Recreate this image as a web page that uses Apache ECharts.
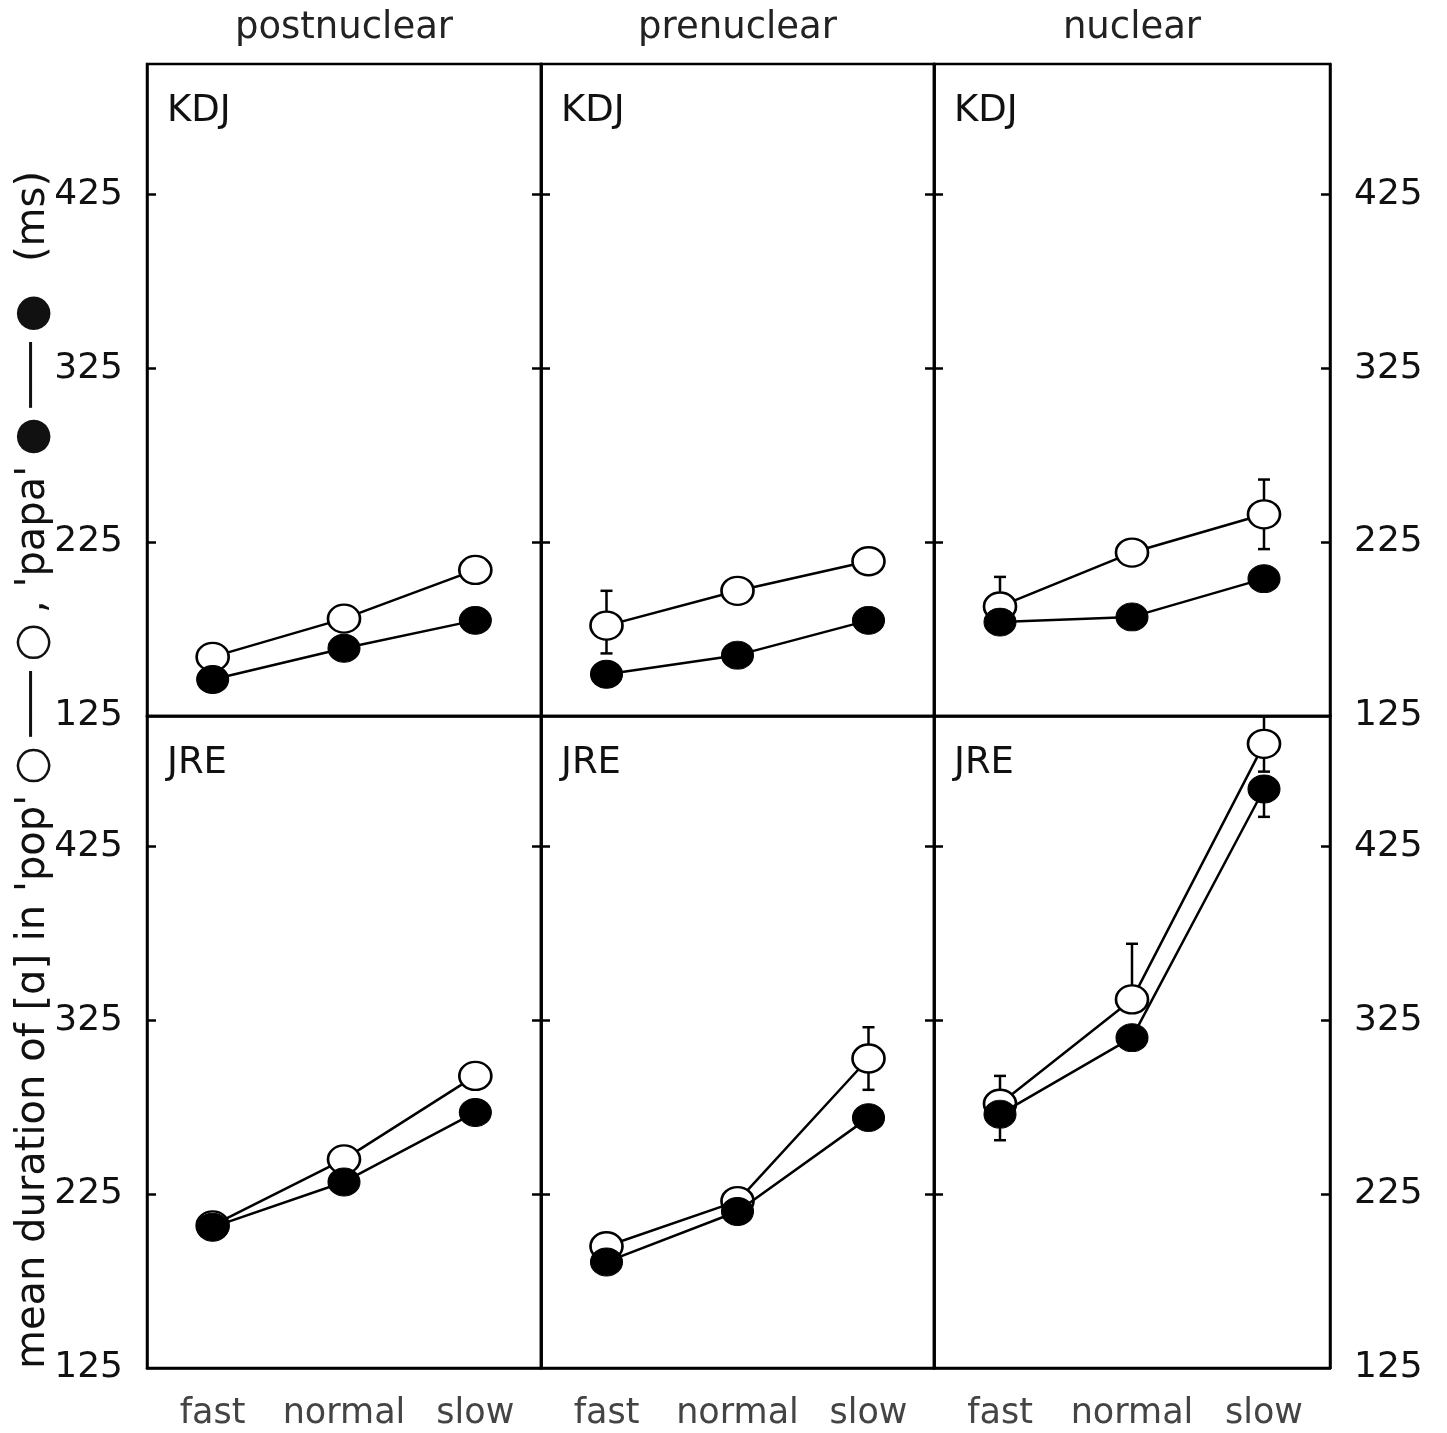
<!DOCTYPE html>
<html>
<head>
<meta charset="utf-8">
<title>pop papa durations</title>
<script src="https://cdn.jsdelivr.net/npm/echarts@6/dist/echarts.min.js"></script>
<style>
  body { margin: 0; background: #fff; }
</style>
</head>
<body>
<div id="main" style="width:1447px;height:1433px;"></div>
<script>
// categories
var speeds = ['fast', 'normal', 'slow'];
var positions = ['postnuclear', 'prenuclear', 'nuclear'];
var speakers = ['KDJ', 'JRE'];
var yTicks = [125, 225, 325, 425];

// mean durations (ms), one row per position: postnuclear, prenuclear, nuclear
var kdjPop  = [[159, 181, 209], [177, 197, 214], [188, 219, 241]];
var kdjPapa = [[146, 164, 180], [149, 160, 180], [179, 182, 204]];
var jrePop  = [[207, 245, 293], [195, 221, 303], [277, 337, 484]];
var jrePapa = [[206, 232, 272], [186, 215, 269], [271, 315, 458]];

// error bars as [below, above] (0 = not drawn)
var kdjPopErr  = [[[0, 0], [0, 0], [0, 0]], [[16, 20], [0, 0], [0, 0]], [[0, 17], [0, 0], [20, 20]]];
var kdjPapaErr = [[[0, 0], [0, 0], [0, 0]], [[0, 0], [0, 0], [0, 0]], [[0, 0], [0, 0], [0, 0]]];
var jrePopErr  = [[[0, 0], [0, 0], [0, 0]], [[0, 0], [0, 0], [18, 18]], [[0, 16], [0, 32], [16, 16]]];
var jrePapaErr = [[[0, 0], [0, 0], [0, 0]], [[0, 0], [0, 0], [0, 0]], [[15, 0], [0, 0], [16, 0]]];

var popRows = [kdjPop, jrePop];
var papaRows = [kdjPapa, jrePapa];
var popErrRows = [kdjPopErr, jrePopErr];
var papaErrRows = [kdjPapaErr, jrePapaErr];

var FONT = 'DejaVu Sans';
var colLeft = [147, 541, 934];
var colWidth = [394, 393, 396];
var rowTop = [64, 716];
var rowHeight = 652;

var chart = echarts.init(document.getElementById('main'));

var grids = [], xAxes = [], yAxes = [], series = [];

function errorData(vals, errs) {
  var out = [];
  for (var i = 0; i < vals.length; i++) {
    if (errs[i][0] > 0 || errs[i][1] > 0) out.push([i, vals[i], errs[i][0], errs[i][1]]);
  }
  return out;
}

function renderError(params, api) {
  var x = api.value(0), v = api.value(1), dn = api.value(2), up = api.value(3);
  var top = api.coord([x, v + up]);
  var bot = api.coord([x, v - dn]);
  var w = 6;
  var st = { stroke: '#000', lineWidth: 2.5 };
  var kids = [{ type: 'line', shape: { x1: top[0], y1: top[1], x2: bot[0], y2: bot[1] }, style: st }];
  if (up > 0) kids.push({ type: 'line', shape: { x1: top[0] - w, y1: top[1], x2: top[0] + w, y2: top[1] }, style: st });
  if (dn > 0) kids.push({ type: 'line', shape: { x1: bot[0] - w, y1: bot[1], x2: bot[0] + w, y2: bot[1] }, style: st });
  return { type: 'group', children: kids };
}

function yAxisFor(g, side, showLabels) {
  return {
    type: 'value', gridIndex: g, position: side,
    min: 125, max: 500,
    axisLine: { show: true, lineStyle: { color: '#000', width: 2.5 } },
    axisTick: { show: true, inside: true, length: 9, lineStyle: { color: '#000', width: 2.5 },
      customValues: [225, 325, 425] },
    axisLabel: { show: showLabels, customValues: yTicks, fontSize: 36, fontFamily: FONT,
      color: '#111', margin: 24 },
    splitLine: { show: false }
  };
}

for (var r = 0; r < 2; r++) {
  for (var c = 0; c < 3; c++) {
    var g = r * 3 + c;
    grids.push({
      left: colLeft[c], top: rowTop[r], width: colWidth[c], height: rowHeight,
      outerBoundsMode: 'none',
      show: true, borderColor: '#000', borderWidth: 2.5
    });
    xAxes.push({
      type: 'category', gridIndex: g, data: speeds, boundaryGap: true,
      axisLine: { show: true, lineStyle: { color: '#000', width: 2.5 } },
      axisTick: { show: false },
      axisLabel: { show: r === 1, interval: 0, hideOverlap: false, fontSize: 35, fontFamily: FONT,
        color: '#444', margin: 28 }
    });
    yAxes.push(yAxisFor(g, 'left', c === 0));
    yAxes.push(yAxisFor(g, 'right', c === 2));

    var pop = popRows[r][c], papa = papaRows[r][c];
    series.push({
      type: 'custom', xAxisIndex: g, yAxisIndex: 2 * g, z: 1, clip: true,
      renderItem: renderError,
      data: errorData(pop, popErrRows[r][c]).concat(errorData(papa, papaErrRows[r][c]))
    });
    series.push({
      name: 'pop', type: 'line', xAxisIndex: g, yAxisIndex: 2 * g, z: 3,
      data: pop, symbol: 'circle', symbolSize: [32, 28],
      itemStyle: { color: '#fff', borderColor: '#000', borderWidth: 2.5 },
      lineStyle: { color: '#000', width: 2.5 }
    });
    series.push({
      name: 'papa', type: 'line', xAxisIndex: g, yAxisIndex: 2 * g, z: 4,
      data: papa, symbol: 'circle', symbolSize: [32, 28],
      itemStyle: { color: '#000', borderColor: '#000', borderWidth: 1 },
      lineStyle: { color: '#000', width: 2.5 }
    });
  }
}

var graphics = [];
positions.forEach(function (p, c) {
  graphics.push({
    type: 'text', x: colLeft[c] + colWidth[c] / 2, y: 28,
    style: { text: p, fontSize: 37, fontFamily: FONT, fill: '#222',
      align: 'center', verticalAlign: 'middle', textAlign: 'center', textVerticalAlign: 'middle' }
  });
});
speakers.forEach(function (s, r) {
  for (var c = 0; c < 3; c++) {
    graphics.push({
      type: 'text', x: colLeft[c] + 20, y: rowTop[r] + 47,
      style: { text: s, fontSize: 37, fontFamily: FONT, fill: '#111',
        align: 'left', verticalAlign: 'middle', textAlign: 'left', textVerticalAlign: 'middle' }
    });
  }
});
// vertical axis title with legend symbols
graphics.push({
  type: 'text', x: 34, y: 770, rotation: Math.PI / 2,
  style: {
    text: "{t|mean duration of [ɑ] in 'pop'}{s|○}{d|───}{s|○}{t|, 'papa'}{s|●}{d|───}{s|●}{m|(ms)}",
    align: 'center', verticalAlign: 'middle', textAlign: 'center', textVerticalAlign: 'middle',
    rich: {
      t: { fontSize: 40, fontFamily: FONT, fill: '#111' },
      m: { fontSize: 40, fontFamily: FONT, fill: '#111', padding: [0, 0, 0, 22] },
      s: { fontSize: 44, fontFamily: FONT, fill: '#111', padding: [0, 10] },
      d: { fontSize: 36, fontFamily: FONT, fill: '#111' }
    }
  }
});

chart.setOption({
  animation: false,
  backgroundColor: '#fff',
  grid: grids,
  xAxis: xAxes,
  yAxis: yAxes,
  series: series,
  graphic: graphics
});
</script>
</body>
</html>
